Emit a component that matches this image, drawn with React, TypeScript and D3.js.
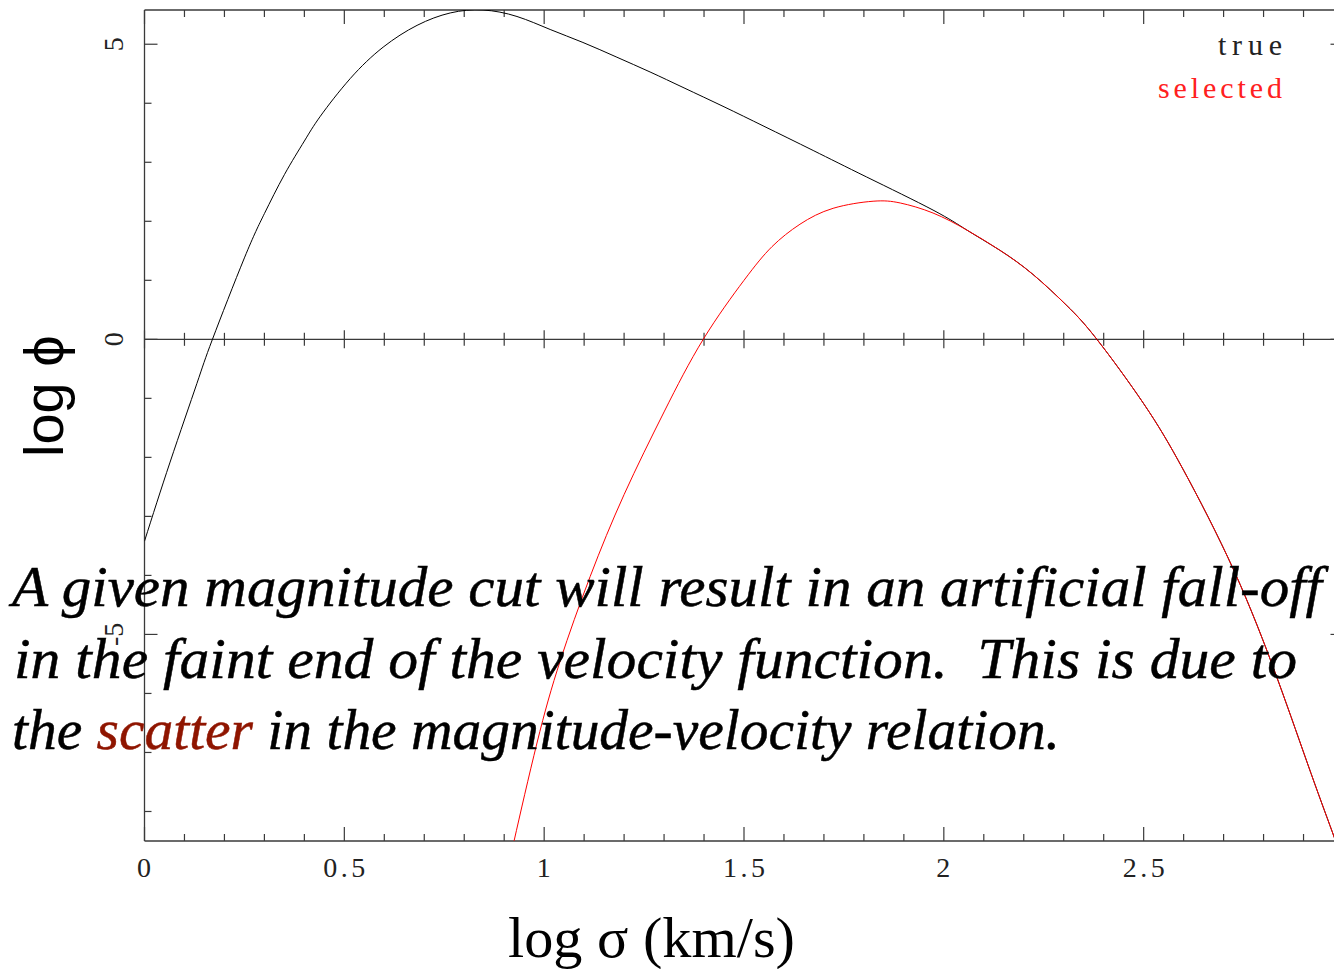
import React from "react";
import * as d3 from "d3";

// "true" velocity function (log sigma vs log phi)
const trueX = [0, 0.064, 0.131, 0.17, 0.25, 0.3, 0.35, 0.4, 0.44, 0.515, 0.597, 0.682, 0.765, 0.847, 0.932, 1.015, 1.097, 1.182, 1.265, 1.35, 1.45, 1.55, 1.673, 1.807, 1.973, 2.058, 2.14, 2.223, 2.308, 2.383, 2.5, 2.6, 2.726, 2.834, 2.919, 2.977, 3.0];
const trueY = [-3.42, -2.08, -0.75, 0.0, 1.38, 2.13, 2.79, 3.36, 3.78, 4.42, 4.95, 5.32, 5.53, 5.58, 5.47, 5.25, 5.03, 4.78, 4.53, 4.26, 3.94, 3.61, 3.2, 2.75, 2.19, 1.85, 1.51, 1.1, 0.57, 0.0, -1.09, -2.22, -3.92, -5.74, -7.36, -8.44, -8.9];

// "selected" velocity function
const selX = [0.9, 0.925, 0.982, 1.04, 1.115, 1.2, 1.3, 1.398, 1.5, 1.57, 1.64, 1.723, 1.823, 1.891, 1.973, 2.058, 2.14, 2.223, 2.308, 2.383, 2.5, 2.6, 2.726, 2.834, 2.919, 2.977, 3.0];
const selY = [-9.25, -8.49, -6.84, -5.45, -4.02, -2.63, -1.23, 0.0, 1.0, 1.57, 1.95, 2.22, 2.34, 2.31, 2.14, 1.85, 1.51, 1.1, 0.57, 0.0, -1.09, -2.22, -3.92, -5.74, -7.36, -8.44, -8.9];

const xMajorTicks = [0, 0.5, 1, 1.5, 2, 2.5, 3];
const xTickLabels = ["0", "0.5", "1", "1.5", "2", "2.5"];
const yMajorTicks = [-5, 0, 5];
const yTickLabels = ["-5", "0", "5"];
const legendLabels = ["true", "selected"];
const xTitle = "log σ (km/s)";
const yTitle = "log ϕ";
const caption1 = "A given magnitude cut will result in an artificial fall-off";
const caption2 = "in the faint end of the velocity function.\u00a0\u00a0This is due to";
const caption3a = "the ";
const caption3b = "scatter";
const caption3c = " in the magnitude-velocity relation.";

export default function App() {
  const W = 1334, H = 969;
  const left = 144.5, right = 1343.5, top = 10, bottom = 841;
  const x = d3.scaleLinear().domain([0, 3]).range([left, right]);
  const y = d3.scaleLinear().domain([-8.5, 5.58]).range([bottom, top]);

  const xMinor = d3.range(0, 31).map((i) => i / 10);
  const yMinor = d3.range(-8, 6);

  const line = d3
    .line<[number, number]>()
    .x((d) => x(d[0]))
    .y((d) => y(d[1]))
    .curve(d3.curveNatural);

  const truePts = trueX.map((v, i) => [v, trueY[i]] as [number, number]);
  const selPts = selX.map((v, i) => [v, selY[i]] as [number, number]);

  const axisColor = "#3a3a3a";
  const tickFont = "'Liberation Serif', serif";
  const y0 = y(0);

  return (
    <svg
      width={W}
      height={H}
      style={{ position: "absolute", left: 0, top: 0, background: "#fff" }}
    >
      <defs>
        <clipPath id="plotclip">
          <rect x={left} y={top} width={right - left} height={bottom - top} />
        </clipPath>
      </defs>

      {/* frame */}
      <g stroke={axisColor} strokeWidth={1.3} fill="none">
        <line x1={left} x2={right} y1={top} y2={top} />
        <line x1={left} x2={right} y1={bottom} y2={bottom} />
        <line x1={left} x2={left} y1={top} y2={bottom} />
        <line x1={right} x2={right} y1={top} y2={bottom} />
        {/* zero line */}
        <line x1={left} x2={right} y1={y0} y2={y0} />
      </g>

      {/* ticks */}
      <g stroke={axisColor} strokeWidth={1.2}>
        {xMinor.map((v, i) => {
          const major = i % 5 === 0;
          const L = major ? 14 : 7;
          const Z = major ? 9 : 6.5;
          const px = x(v);
          return (
            <g key={"xt" + i}>
              <line x1={px} x2={px} y1={top} y2={top + L} />
              <line x1={px} x2={px} y1={bottom} y2={bottom - L} />
              <line x1={px} x2={px} y1={y0 - Z} y2={y0 + Z} />
            </g>
          );
        })}
        {yMinor.map((v) => {
          const major = v % 5 === 0;
          const L = major ? 13 : 7;
          const py = y(v);
          return (
            <g key={"yt" + v}>
              <line x1={left} x2={left + L} y1={py} y2={py} />
              <line x1={right} x2={right - L} y1={py} y2={py} />
            </g>
          );
        })}
      </g>

      {/* x tick labels */}
      <g fill="#222" fontFamily={tickFont} fontSize={28}>
        {xMajorTicks.slice(0, xTickLabels.length).map((v, i) => {
          const lbl = xTickLabels[i];
          const w = lbl.length === 1 ? 15 : 42;
          return (
            <text
              key={"xl" + i}
              x={x(v) - w / 2}
              y={877}
              textLength={w}
              lengthAdjust="spacing"
            >
              {lbl}
            </text>
          );
        })}
      </g>

      {/* y tick labels */}
      <g fill="#222" fontFamily={tickFont} fontSize={28}>
        {yMajorTicks.map((v, i) => (
          <text
            key={"yl" + i}
            transform={`translate(123,${y(v)}) rotate(-90)`}
            textAnchor="middle"
          >
            {yTickLabels[i]}
          </text>
        ))}
      </g>

      {/* curves */}
      <g clipPath="url(#plotclip)" fill="none">
        <path d={line(truePts) || ""} stroke="#000" strokeWidth={1} />
        <path d={line(selPts) || ""} stroke="#ff0000" strokeWidth={1} />
      </g>

      {/* legend */}
      <g fontFamily={tickFont} fontSize={30}>
        <text x={1282 - 64} y={55} textLength={64} lengthAdjust="spacing" fill="#222">
          {legendLabels[0]}
        </text>
        <text x={1282 - 124} y={98} textLength={124} lengthAdjust="spacing" fill="#ff2020">
          {legendLabels[1]}
        </text>
      </g>

      {/* axis titles */}
      <text
        x={508}
        y={957}
        fontFamily="'Liberation Serif', serif"
        fontSize={58}
        textLength={287}
        lengthAdjust="spacingAndGlyphs"
        fill="#000"
      >
        {xTitle}
      </text>
      <text
        transform="translate(63,457) rotate(-90)"
        fontFamily="'Liberation Sans', 'DejaVu Sans', sans-serif"
        fontSize={56}
        fill="#000"
      >
        {yTitle}
      </text>

      {/* caption overlay */}
      <g
        fontFamily="'Liberation Serif', serif"
        fontStyle="italic"
        fontSize={58}
        fill="#000"
        stroke="#000"
        strokeWidth={0.5}
      >
        <text x={12} y={606} textLength={1310} lengthAdjust="spacingAndGlyphs">
          {caption1}
        </text>
        <text x={14} y={678} textLength={1283} lengthAdjust="spacingAndGlyphs">
          {caption2}
        </text>
        <text x={12} y={749} textLength={1048} lengthAdjust="spacingAndGlyphs">
          <tspan>{caption3a}</tspan>
          <tspan fill="#8f1500" stroke="#8f1500">{caption3b}</tspan>
          <tspan>{caption3c}</tspan>
        </text>
      </g>
    </svg>
  );
}
